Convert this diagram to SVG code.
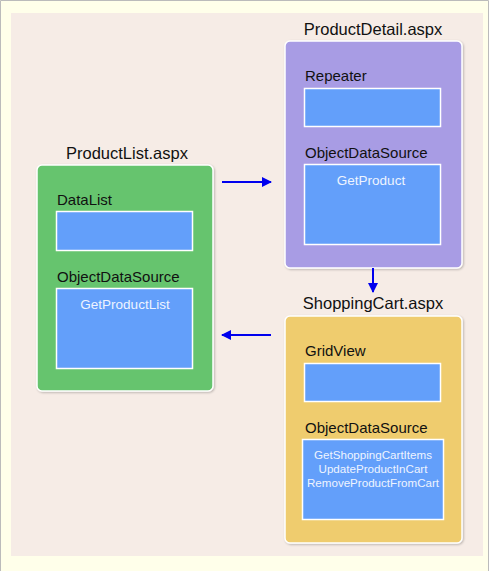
<svg xmlns="http://www.w3.org/2000/svg" width="489" height="571" viewBox="0 0 489 571">
<defs>
<style>
.t{font-family:"Liberation Sans","Noto Sans",sans-serif;font-size:16.5px;fill:#111}
.l{font-family:"Liberation Sans","Noto Sans",sans-serif;font-size:15px;fill:#111}
.m{font-family:"Liberation Sans","Noto Sans",sans-serif;font-size:11.6px;fill:#eef4ff;text-anchor:middle}
.b{font-size:13.5px}
.box{stroke:#fff;stroke-width:1.5}
.in{fill:#639ffa;stroke:#fff;stroke-width:1.5}
.c{stroke:#0000ee;stroke-width:2;fill:none}
</style>
<filter id="sh" x="-10%" y="-10%" width="120%" height="120%"><feDropShadow dx="1" dy="1" stdDeviation="1" flood-color="#000" flood-opacity="0.25"/></filter>
<marker id="ah" viewBox="0 0 10 10" refX="9" refY="5" markerWidth="10" markerHeight="10" orient="auto" markerUnits="userSpaceOnUse"><path d="M0,0 L10,5 L0,10 z" fill="#0000ee"/></marker>
</defs>
<rect x="0" y="0" width="489" height="571" fill="#ffffea"/>
<path d="M0.5,571 V0.5 H488.5 V571" fill="none" stroke="#bbb" stroke-width="1"/>
<rect x="11" y="13" width="472" height="543" fill="#f6ece6"/>
<g id="productlist">
<text class="t" x="127" y="159" text-anchor="middle">ProductList.aspx</text>
<rect class="box" x="37" y="165" width="176" height="226" rx="5" fill="#66c46e" filter="url(#sh)"/>
<text class="l" x="57" y="205">DataList</text>
<rect class="in" x="56.5" y="211.5" width="136" height="39"/>
<text class="l" x="57" y="282">ObjectDataSource</text>
<rect class="in" x="56.5" y="288.5" width="136" height="80"/>
<text class="m b" x="125" y="309">GetProductList</text>
</g>
<g id="productdetail">
<text class="t" x="373" y="35" text-anchor="middle">ProductDetail.aspx</text>
<rect class="box" x="285" y="41" width="177" height="227" rx="5" fill="#a89ce4" filter="url(#sh)"/>
<text class="l" x="305" y="81">Repeater</text>
<rect class="in" x="304.5" y="88.5" width="136" height="38"/>
<text class="l" x="305" y="158">ObjectDataSource</text>
<rect class="in" x="304.5" y="164.5" width="136" height="80"/>
<text class="m b" x="371" y="185">GetProduct</text>
</g>
<g id="shoppingcart">
<text class="t" x="373" y="309" text-anchor="middle">ShoppingCart.aspx</text>
<rect class="box" x="285" y="316" width="177" height="227" rx="5" fill="#efcc6e" filter="url(#sh)"/>
<text class="l" x="305" y="356">GridView</text>
<rect class="in" x="304.5" y="363.5" width="136" height="38"/>
<text class="l" x="305" y="433">ObjectDataSource</text>
<rect class="in" x="302.5" y="439.5" width="141" height="80"/>
<text class="m" x="373" y="459">GetShoppingCartItems</text>
<text class="m" x="373" y="473">UpdateProductInCart</text>
<text class="m" x="373" y="487">RemoveProductFromCart</text>
</g>
<g id="connectors">
<line class="c" x1="222" y1="182" x2="271" y2="182" marker-end="url(#ah)"/>
<line class="c" x1="271" y1="335" x2="222" y2="335" marker-end="url(#ah)"/>
<line class="c" x1="373" y1="268" x2="373" y2="292" marker-end="url(#ah)"/>
</g>
</svg>
